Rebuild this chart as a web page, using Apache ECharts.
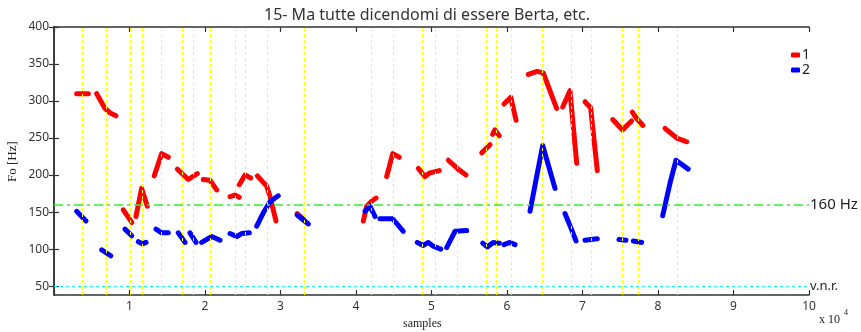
<!DOCTYPE html>
<html>
<head>
<meta charset="utf-8">
<script src="https://cdn.jsdelivr.net/npm/echarts@6/dist/echarts.min.js"></script>
<style>
  html, body { margin: 0; padding: 0; background: #fff; }
  #chart { width: 861px; height: 332px; }
</style>
</head>
<body>
<div id="chart"></div>
<script>
// F0 tracks, one array per voiced stretch: [sample, Hz]
const redSegments = [
    [[3000, 310], [4550, 310]],
    [[5650, 310], [6750, 290], [7420, 284], [8200, 280]],
    [[9180, 153], [10300, 136]],
    [[10860, 144], [11600, 182], [12360, 158]],
    [[13280, 199], [14260, 229], [15140, 224]],
    [[16330, 208], [17790, 194], [18980, 202]],
    [[19770, 194], [20660, 193], [21550, 180]],
    [[23310, 171], [23970, 173], [24540, 170]],
    [[24540, 187], [25300, 200], [26050, 196]],
    [[26930, 199], [28170, 185], [28610, 171], [29400, 138]],
    [[32200, 148], [33100, 140]],
    [[40970, 138], [41420, 158], [42090, 165], [42650, 169]],
    [[44060, 198], [44860, 229], [45730, 224]],
    [[48250, 209], [49140, 198], [49800, 203], [51030, 206]],
    [[52230, 220], [53420, 209], [54570, 200]],
    [[56650, 230], [57750, 241]],
    [[58100, 255], [58400, 261], [58980, 253]],
    [[59600, 296], [60500, 305], [61200, 274]],
    [[62820, 336], [64000, 340], [64800, 338], [66570, 290]],
    [[67380, 292], [68340, 314], [69230, 216]],
    [[70330, 299], [71080, 291], [71960, 206]],
    [[74000, 275], [75300, 261], [76500, 273]],
    [[76600, 285], [77200, 276], [78000, 267]],
    [[80930, 263], [82480, 250], [83800, 245]]
];
const blueSegments = [
    [[3000, 151], [4240, 138]],
    [[6320, 99], [7510, 91]],
    [[9400, 127], [10300, 118]],
    [[11170, 110], [11700, 107], [12190, 109]],
    [[13510, 127], [14260, 122], [15140, 122]],
    [[16460, 122], [17350, 109]],
    [[18010, 122], [18810, 109]],
    [[19560, 109], [20890, 117], [21990, 112]],
    [[23310, 121], [24200, 117], [24860, 121], [25870, 122]],
    [[26850, 131], [27720, 149], [28610, 164], [29700, 172]],
    [[32200, 146], [33700, 134]],
    [[41190, 151], [41850, 158], [42520, 144]],
    [[43180, 141], [44860, 141], [46270, 124]],
    [[48120, 109], [48920, 105], [49580, 109], [50240, 104], [51220, 100]],
    [[52010, 102], [53110, 124], [54660, 125]],
    [[56780, 108], [57390, 103], [58180, 109], [58980, 108]],
    [[59600, 106], [60400, 109], [61060, 106]],
    [[63050, 151], [63930, 198], [64730, 240], [66360, 182]],
    [[67680, 148], [68570, 126], [69140, 111]],
    [[70330, 112], [71960, 114]],
    [[74830, 113], [75760, 112]],
    [[76730, 111], [77840, 109]],
    [[80620, 145], [81590, 189], [82380, 220], [84000, 208]]
];
// syllable boundaries (yellow dashed lines)
const boundaries = [3800, 6930, 10070, 11750, 14260, 17050, 18450, 20750, 24070, 25300,
    28250, 33110, 41990, 44940, 48830, 50560, 53380, 57310, 58540, 60530,
    64730, 68480, 71160, 75320, 77390, 82520];
const xTicks = [10000, 20000, 30000, 40000, 50000, 60000, 70000, 80000, 90000, 100000];
const yTicks = [50, 100, 150, 200, 250, 300, 350, 400];
const refLine = 160;
const floorLine = 50;

const chart = echarts.init(document.getElementById('chart'));

const axisLine = { show: true, lineStyle: { color: '#333', width: 1.5 } };
const tick = { show: true, inside: true, length: 5, lineStyle: { color: '#333', width: 1.2 } };

let series = [];
redSegments.forEach(function (seg) {
    series.push({
        name: '1', type: 'line', data: seg, showSymbol: false, z: 2,
        lineStyle: { color: '#ff0000', width: 5, cap: 'round', join: 'round' },
        itemStyle: { color: '#ff0000' }
    });
});
blueSegments.forEach(function (seg) {
    series.push({
        name: '2', type: 'line', data: seg, showSymbol: false, z: 3,
        lineStyle: { color: '#0000ff', width: 5, cap: 'round', join: 'round' },
        itemStyle: { color: '#0000ff' }
    });
});
// reference lines
series.push({
    type: 'line', data: [], z: 5, silent: true,
    markLine: {
        symbol: 'none', silent: true, animation: false, label: { show: false },
        data: boundaries.map(function (v) {
            return { xAxis: v, lineStyle: { color: '#ffff00', width: 1, type: [3, 3] } };
        }).concat([
            { yAxis: refLine, lineStyle: { color: '#33ee33', width: 1.5, type: [9, 4, 3, 4] } },
            { yAxis: floorLine, lineStyle: { color: '#22eeee', width: 1, type: [3, 3] } }
        ])
    }
});

chart.setOption({
    animation: false,
    title: {
        text: '15- Ma tutte dicendomi di essere Berta, etc.',
        left: 259, top: 2,
        textStyle: { fontFamily: 'Noto Sans', fontSize: 16, fontWeight: 'normal', color: '#333' }
    },
    legend: {
        data: ['1', '2'],
        orient: 'vertical',
        left: 791, top: 48,
        padding: 0,
        itemGap: 1,
        itemWidth: 9, itemHeight: 5,
        icon: 'roundRect',
        textStyle: { fontFamily: 'Noto Sans', fontSize: 14, color: '#222', padding: [0, 0, 0, -3] }
    },
    grid: { left: 54, right: 52, top: 27, bottom: 37 },
    xAxis: [{
        type: 'value', min: 0, max: 100000, interval: 10000,
        axisLine: axisLine, axisTick: tick, splitLine: { show: false },
        axisLabel: {
            color: '#333', fontFamily: 'Noto Sans', fontSize: 12, margin: 6,
            formatter: function (v) { return v === 0 ? '' : String(v / 10000); }
        }
    }, {
        type: 'value', position: 'top', min: 0, max: 100000, interval: 10000,
        axisLine: axisLine, axisTick: tick, splitLine: { show: false },
        axisLabel: { show: false }
    }],
    yAxis: [{
        type: 'value', min: 38, max: 400,
        axisLine: axisLine,
        axisTick: Object.assign({ customValues: yTicks }, tick),
        splitLine: { show: false },
        axisLabel: { customValues: yTicks, color: '#333', fontFamily: 'Noto Sans', fontSize: 12, margin: 5 }
    }, {
        type: 'value', position: 'right', min: 38, max: 400,
        axisLine: axisLine,
        axisTick: Object.assign({ customValues: yTicks }, tick),
        splitLine: { show: false },
        axisLabel: { show: false }
    }],
    graphic: [
        { type: 'text', left: 810, top: 197, style: { text: '160 Hz', font: '15px "Noto Sans"', fill: '#222' } },
        { type: 'text', left: 810, top: 280, style: { text: 'v.n.r.', font: '13px "Noto Sans"', fill: '#222' } },
        { type: 'text', left: 403, top: 318, style: { text: 'samples', font: '12px "Liberation Serif"', fill: '#222' } },
        { type: 'text', left: 819, top: 314, style: { text: 'x 10', font: '12px "Liberation Serif"', fill: '#222' } },
        { type: 'text', left: 844, top: 309, style: { text: '4', font: '8px "Liberation Serif"', fill: '#222' } },
        { type: 'text', x: 6, y: 182, rotation: Math.PI / 2, style: { text: 'Fo [Hz]', font: '13px "Liberation Serif"', fill: '#222' } }
    ],
    series: series
});
</script>
</body>
</html>
